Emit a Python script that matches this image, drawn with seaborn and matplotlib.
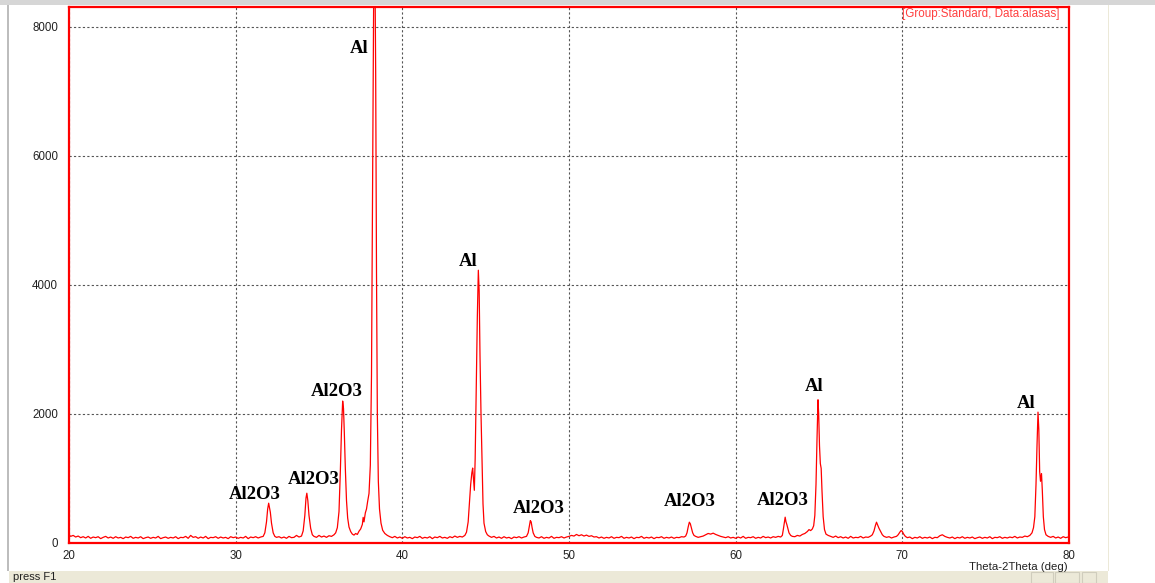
import matplotlib
matplotlib.use("Agg")
import matplotlib.pyplot as plt
from matplotlib.ticker import MultipleLocator
from matplotlib.patches import Rectangle
import seaborn as sns
import pandas as pd

# ---------------- data (2-theta in degrees, intensity in counts) ----------------
seg_20_32 = [(20.0,120),(20.1,95),(20.25,110),(20.4,85),(20.55,100),(20.7,75),(20.85,90),(21.0,70),
             (21.15,95),(21.3,65),(21.45,85),(21.6,75),(21.75,90),(21.9,60),(22.05,80),(22.2,95),
             (22.35,70),(22.5,85),(22.65,65),(22.8,90),(22.95,70),(23.1,80),(23.25,60),(23.4,85),
             (23.55,75),(23.7,95),(23.85,65),(24.0,80),(24.15,70),(24.3,90),(24.45,60),(24.6,75),
             (24.75,85),(24.9,65),(25.05,80),(25.2,70),(25.35,95),(25.5,60),(25.65,75),(25.8,85),
             (25.95,65),(26.1,80),(26.25,70),(26.4,90),(26.55,60),(26.7,80),(26.85,75),(27.0,95),
             (27.15,65),(27.3,110),(27.45,80),(27.6,90),(27.75,65),(27.9,85),(28.05,70),(28.2,95),
             (28.35,60),(28.5,80),(28.65,75),(28.8,90),(28.95,65),(29.1,85),(29.25,70),(29.4,80),
             (29.55,60),(29.7,90),(29.85,75),(30.0,85),(30.15,65),(30.3,80),(30.45,70),(30.6,95),
             (30.75,60),(30.9,85),(31.05,75),(31.2,90),(31.35,70),(31.5,85),(31.65,95),
             (31.75,150),(31.85,320),(31.92,520),(31.98,610),(32.03,540),(32.08,470),(32.15,300),
             (32.25,150),(32.35,95),(32.45,80)]
seg_32_39 = [(32.6,90),(32.75,70),(32.9,85),(33.05,65),(33.2,95),(33.35,75),(33.5,80),(33.65,110),
             (33.8,85),(33.95,100),(34.05,180),(34.15,420),(34.22,690),(34.27,765),(34.33,650),
             (34.4,420),(34.5,220),(34.6,120),(34.7,95),(34.85,80),(35.0,110),(35.15,85),(35.3,100),
             (35.45,80),(35.6,105),(35.75,95),(35.9,120),(36.0,150),(36.1,230),(36.2,480),(36.28,1100),
             (36.35,1750),(36.42,2195),(36.47,2080),(36.52,1700),(36.58,1150),(36.65,650),(36.72,380),
             (36.8,240),(36.9,170),(37.0,130),(37.1,115),(37.2,140),(37.3,125),(37.4,175),(37.5,210),
             (37.6,280),(37.65,390),(37.7,320),(37.78,460),(37.85,520),(37.92,640),(38.0,760),
             (38.08,1200),(38.15,2600),(38.22,5600),(38.3,9400),(38.36,8800),(38.4,7300),(38.45,4200),
             (38.5,2000),(38.56,950),(38.63,520),(38.72,300),(38.82,190),(38.95,140),(39.1,110)]
seg_39_48 = [(39.25,90),(39.4,75),(39.55,95),(39.7,70),(39.85,85),(40.0,65),(40.15,90),(40.3,70),
             (40.45,80),(40.6,60),(40.75,85),(40.9,75),(41.05,95),(41.2,65),(41.35,80),(41.5,70),
             (41.65,90),(41.8,60),(41.95,85),(42.1,75),(42.25,95),(42.4,70),(42.55,80),(42.7,65),
             (42.85,90),(43.0,75),(43.15,100),(43.3,80),(43.45,95),(43.6,85),(43.75,110),
             (43.85,160),(43.95,320),(44.03,620),(44.1,900),(44.17,1080),(44.22,1155),(44.27,980),
             (44.32,810),(44.37,1300),(44.43,2300),(44.5,3500),(44.56,4225),(44.61,3900),(44.66,2900),
             (44.72,2000),(44.78,1300),(44.84,600),(44.9,300),(45.0,170),(45.1,120),(45.2,100),
             (45.35,80),(45.5,95),(45.65,70),(45.8,85),(45.95,65),(46.1,90),(46.25,70),(46.4,80),
             (46.55,60),(46.7,85),(46.85,75),(47.0,90),(47.15,70),(47.3,85),(47.45,95),
             (47.55,150),(47.62,250),(47.68,340),(47.73,320),(47.78,240),(47.85,150),(47.95,95),
             (48.05,80)]
seg_48_63 = [(48.2,70),(48.35,90),(48.5,65),(48.65,80),(48.8,70),(48.95,95),(49.1,65),(49.25,80),
             (49.4,75),(49.55,90),(49.7,70),(49.85,85),(50.0,95),(50.15,110),(50.3,100),(50.45,125),
             (50.6,105),(50.75,120),(50.9,100),(51.05,115),(51.2,95),(51.35,105),(51.5,85),(51.65,90),
             (51.8,70),(51.95,85),(52.1,65),(52.25,80),(52.4,70),(52.55,90),(52.7,65),(52.85,80),
             (53.0,75),(53.15,95),(53.3,65),(53.45,80),(53.6,70),(53.75,85),(53.9,60),(54.05,80),
             (54.2,75),(54.35,95),(54.5,65),(54.65,80),(54.8,70),(54.95,85),(55.1,60),(55.25,80),
             (55.4,75),(55.55,90),(55.7,65),(55.85,80),(56.0,70),(56.15,85),(56.3,65),(56.45,80),
             (56.6,75),(56.75,90),(56.9,85),(57.0,100),(57.08,150),(57.15,240),(57.22,315),(57.28,290),
             (57.35,220),(57.42,150),(57.5,110),(57.6,95),(57.75,80),(57.9,90),(58.05,100),(58.2,120),
             (58.35,140),(58.5,130),(58.65,145),(58.8,125),(58.95,110),(59.1,95),(59.25,85),(59.4,75),
             (59.55,90),(59.7,70),(59.85,80),(60.0,65),(60.15,85),(60.3,70),(60.45,95),(60.6,65),
             (60.75,80),(60.9,75),(61.05,90),(61.2,65),(61.35,80),(61.5,70),(61.65,95),(61.8,75),
             (61.95,85),(62.1,70),(62.25,90),(62.4,80),(62.55,95),(62.7,85),(62.8,110),
             (62.87,220),(62.93,330),(62.97,393),(63.02,320),(63.07,280),(63.12,230),(63.2,150),
             (63.3,110),(63.4,95)]
seg_63_71 = [(63.55,90),(63.7,110),(63.85,100),(64.0,125),(64.15,140),(64.3,170),(64.4,200),(64.5,185),
             (64.6,210),(64.68,260),(64.75,420),(64.82,900),(64.88,1600),(64.94,2215),(64.98,2000),
             (65.03,1500),(65.08,1225),(65.13,1150),(65.18,800),(65.25,400),(65.33,200),(65.42,130),
             (65.55,110),(65.7,95),(65.85,80),(66.0,100),(66.15,75),(66.3,90),(66.45,70),(66.6,85),
             (66.75,65),(66.9,95),(67.05,70),(67.2,80),(67.35,75),(67.5,95),(67.65,70),(67.8,85),
             (67.95,80),(68.1,100),(68.2,120),(68.3,180),(68.38,260),(68.45,315),(68.52,270),(68.6,220),
             (68.7,170),(68.8,120),(68.9,95),(69.05,80),(69.2,90),(69.35,70),(69.5,85),(69.65,95),
             (69.75,120),(69.85,160),(69.93,186),(70.0,170),(70.08,130),(70.18,95)]
seg_70_80 = [(70.3,75),(70.45,85),(70.6,60),(70.75,80),(70.9,70),(71.05,90),(71.2,65),(71.35,80),
             (71.5,70),(71.65,85),(71.8,60),(71.95,80),(72.1,75),(72.25,105),(72.4,120),(72.55,95),
             (72.7,80),(72.85,70),(73.0,85),(73.15,60),(73.3,80),(73.45,70),(73.6,90),(73.75,65),
             (73.9,80),(74.05,70),(74.2,85),(74.35,60),(74.5,75),(74.65,85),(74.8,65),(74.95,80),
             (75.1,70),(75.25,90),(75.4,60),(75.55,80),(75.7,75),(75.85,90),(76.0,65),(76.15,80),
             (76.3,70),(76.45,85),(76.6,75),(76.75,95),(76.9,70),(77.05,85),(77.2,80),(77.35,100),
             (77.5,90),(77.65,110),(77.78,150),(77.87,230),(77.95,400),(78.02,900),(78.08,1500),
             (78.14,2023),(78.19,1750),(78.24,1100),(78.29,950),(78.35,1070),(78.4,800),(78.46,400),
             (78.53,200),(78.62,120),(78.75,95),(78.9,80),(79.05,95),(79.2,70),(79.35,85),(79.5,65),
             (79.65,90),(79.8,75),(79.95,85),(80.0,80)]

# peak labels: text, 2-theta, intensity (baseline of the text)
label_text = ["Al2O3", "Al2O3", "Al2O3", "Al", "Al", "Al2O3", "Al2O3", "Al2O3", "Al", "Al"]
label_x    = [31.16, 34.69, 36.04, 37.4, 43.96, 48.2, 57.26, 62.82, 64.73, 77.44]
label_y    = [678, 902, 2277, 7596, 4295, 460, 560, 585, 2344, 2091]

x_ticks = [20, 30, 40, 50, 60, 70, 80]
y_ticks = [0, 2000, 4000, 6000, 8000]

points = seg_20_32 + seg_32_39 + seg_39_48 + seg_48_63 + seg_63_71 + seg_70_80
df = pd.DataFrame(points, columns=["two_theta", "counts"])

# ---------------- figure ----------------
sns.set_style("white")
plt.rcParams["font.family"] = ["Liberation Sans", "DejaVu Sans"]

W, H = 1155, 583
fig = plt.figure(figsize=(W / 100, H / 100), dpi=100)
fig.patch.set_facecolor("white")

# window chrome
fig.add_artist(Rectangle((0, 1 - 5 / H), 1, 5 / H, transform=fig.transFigure,
                         facecolor="#d6d6d6", edgecolor="none"))
fig.add_artist(Rectangle((7 / W, 12 / H), 2 / W, 1 - 17 / H, transform=fig.transFigure,
                         facecolor="#bdbdbd", edgecolor="none"))
fig.add_artist(Rectangle((1108 / W, 12 / H), 1 / W, 1 - 17 / H, transform=fig.transFigure,
                         facecolor="#ece9d8", edgecolor="none"))
fig.add_artist(Rectangle((9 / W, 0), 1099 / W, 12 / H, transform=fig.transFigure,
                         facecolor="#ece9d8", edgecolor="none"))
for (x0, w0) in [(1031, 22), (1055, 24), (1082, 14)]:
    fig.add_artist(Rectangle((x0 / W, 0), w0 / W, 11 / H, transform=fig.transFigure,
                             facecolor="none", edgecolor="#d0cdbd", linewidth=0.8))
fig.text(13 / W, 5.5 / H, "press F1", fontsize=8, color="#222222", va="center", ha="left")

ax = fig.add_axes([69 / W, (H - 542.5) / H, 1000 / W, 535.5 / H])
ax.set_facecolor("white")

sns.lineplot(data=df, x="two_theta", y="counts", color="#ff0000", linewidth=0.9,
             estimator=None, sort=False, ax=ax, legend=False)

ax.set_xlim(20, 80)
ax.set_ylim(0, 8310)
ax.set_xticks(x_ticks)
ax.set_yticks(y_ticks)
ax.set_xticklabels([str(t) for t in x_ticks])
ax.set_yticklabels([str(t) for t in y_ticks])
ax.xaxis.set_minor_locator(MultipleLocator(1))
ax.yaxis.set_minor_locator(MultipleLocator(200))
ax.tick_params(axis="both", which="major", direction="out", length=5, width=0.8,
               color="#444444", labelsize=8.3, labelcolor="#222222", pad=2)
ax.tick_params(axis="x", which="major", length=4, pad=1.2)
ax.tick_params(axis="both", which="minor", direction="out", length=2.5, width=0.8,
               color="#666666")
ax.tick_params(axis="y", which="major", length=6)
ax.set_xlabel("")
ax.set_ylabel("")

ax.grid(True, which="major", linestyle=(0, (2, 2)), color="#555555", linewidth=0.8)
ax.set_axisbelow(True)

for s in ax.spines.values():
    s.set_color("#ff0000")
    s.set_linewidth(1.6)
    s.set_visible(True)

for t, x, y in zip(label_text, label_x, label_y):
    ax.text(x, y, t, ha="center", va="baseline", fontsize=13.5, fontweight="bold",
            family=["Liberation Serif", "DejaVu Serif"], color="black")

ax.text(0.99, 0.998, "[Group:Standard, Data:alasas]", transform=ax.transAxes,
        ha="right", va="top", fontsize=8.4, color="#ff4040")

fig.text(1068 / W, (H - 566.5) / H, "Theta-2Theta (deg)", ha="right", va="center",
         fontsize=8.2, color="#222222")

fig.savefig("out.png", dpi=100)
